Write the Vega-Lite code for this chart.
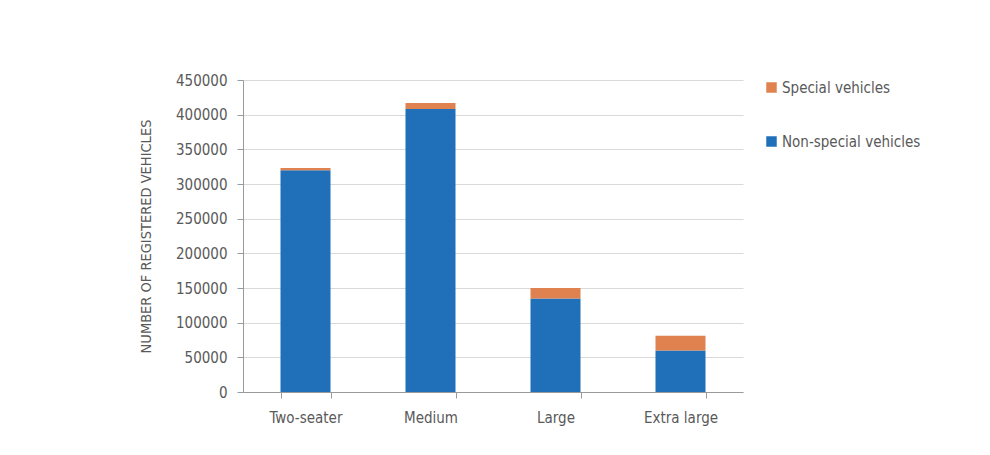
{
  "$schema": "https://vega.github.io/schema/vega-lite/v6.json",
  "autosize": "none",
  "width": 500,
  "height": 312,
  "padding": {"left": 243, "top": 80, "right": 247, "bottom": 63},
  "background": "white",
  "data": {
    "values": [
      {"size": "Two-seater", "type": "Non-special vehicles", "order": 1, "count": 320000},
      {"size": "Two-seater", "type": "Special vehicles", "order": 2, "count": 3000},
      {"size": "Medium", "type": "Non-special vehicles", "order": 1, "count": 408000},
      {"size": "Medium", "type": "Special vehicles", "order": 2, "count": 9000},
      {"size": "Large", "type": "Non-special vehicles", "order": 1, "count": 135000},
      {"size": "Large", "type": "Special vehicles", "order": 2, "count": 15000},
      {"size": "Extra large", "type": "Non-special vehicles", "order": 1, "count": 60000},
      {"size": "Extra large", "type": "Special vehicles", "order": 2, "count": 21000}
    ]
  },
  "mark": {"type": "bar"},
  "encoding": {
    "x": {
      "field": "size",
      "type": "nominal",
      "sort": ["Two-seater", "Medium", "Large", "Extra large"],
      "scale": {"paddingInner": 0.6, "paddingOuter": 0.3},
      "axis": {
        "title": null,
        "labelAngle": 0,
        "labelPadding": 12,
        "tickBand": "extent",
        "tickSize": 6,
        "tickColor": "#9a9a9a",
        "domainColor": "#9a9a9a"
      }
    },
    "y": {
      "field": "count",
      "type": "quantitative",
      "stack": "zero",
      "scale": {"domain": [0, 450000], "nice": false},
      "axis": {
        "title": "NUMBER OF REGISTERED VEHICLES",
        "values": [0, 50000, 100000, 150000, 200000, 250000, 300000, 350000, 400000, 450000],
        "format": "d",
        "tickSize": 6,
        "labelPadding": 10,
        "titlePadding": 22,
        "tickColor": "#9a9a9a",
        "domain": true,
        "domainColor": "#9a9a9a",
        "gridColor": "#d9d9d9"
      }
    },
    "color": {
      "field": "type",
      "type": "nominal",
      "scale": {
        "domain": ["Special vehicles", "Non-special vehicles"],
        "range": ["#e0824f", "#2070b9"]
      },
      "legend": {
        "title": null,
        "orient": "right",
        "offset": 21,
        "symbolType": "square",
        "symbolSize": 110,
        "symbolStrokeWidth": 0,
        "rowPadding": 38,
        "labelOffset": 3,
        "padding": 0
      }
    },
    "order": {"field": "order", "type": "quantitative"}
  },
  "config": {
    "font": "DejaVu Sans Condensed, Liberation Sans, sans-serif",
    "view": {"stroke": null},
    "axis": {
      "labelFont": "DejaVu Sans Condensed, Liberation Sans, sans-serif",
      "titleFont": "DejaVu Sans Condensed, Liberation Sans, sans-serif",
      "labelFontSize": 15,
      "titleFontSize": 14.5,
      "titleFontWeight": "normal",
      "labelColor": "#595959",
      "titleColor": "#595959"
    },
    "legend": {
      "labelFont": "DejaVu Sans Condensed, Liberation Sans, sans-serif",
      "labelFontSize": 15,
      "labelColor": "#595959"
    }
  }
}
